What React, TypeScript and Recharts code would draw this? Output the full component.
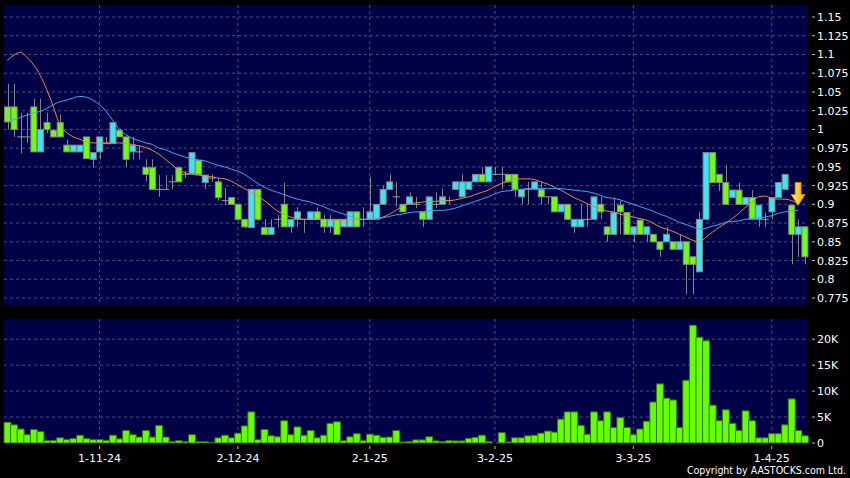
import React from "react";
import {
  ComposedChart,
  Bar,
  Line,
  XAxis,
  YAxis,
  CartesianGrid,
  ReferenceDot,
} from "recharts";

// daily OHLC (cyan = up, green = down)
const opens = [
  1.030, 1.030, 0.990, 0.990, 1.030, 0.970, 1.009, 0.999, 1.009, 0.979,
  0.970, 0.970, 0.990, 0.960, 0.970, 0.981, 0.981, 0.999, 0.990, 0.970,
  0.970, 0.949, 0.949, 0.920, 0.920, 0.930, 0.949, 0.940, 0.941, 0.959,
  0.929, 0.935, 0.930, 0.905, 0.909, 0.900, 0.880, 0.869, 0.920, 0.869,
  0.860, 0.880, 0.900, 0.870, 0.880, 0.880, 0.880, 0.890, 0.880, 0.870,
  0.880, 0.870, 0.870, 0.890, 0.880, 0.880, 0.880, 0.900, 0.920, 0.910,
  0.900, 0.900, 0.900, 0.890, 0.880, 0.900, 0.900, 0.905, 0.920, 0.910,
  0.920, 0.930, 0.940, 0.930, 0.940, 0.940, 0.940, 0.940, 0.910, 0.920,
  0.920, 0.920, 0.910, 0.910, 0.890, 0.900, 0.870, 0.870, 0.880, 0.880,
  0.900, 0.870, 0.860, 0.899, 0.889, 0.860, 0.879, 0.860, 0.860, 0.850,
  0.850, 0.850, 0.840, 0.850, 0.830, 0.810, 0.880, 0.969, 0.940, 0.929,
  0.909, 0.919, 0.900, 0.909, 0.880, 0.880, 0.890, 0.909, 0.920, 0.899,
  0.860, 0.870,
];
const highs = [
  1.061, 1.061, 1.022, 1.022, 1.041, 1.041, 1.022, 0.999, 1.020, 0.986,
  0.979, 0.979, 0.990, 0.969, 0.990, 0.990, 1.009, 1.001, 0.990, 0.990,
  0.979, 0.960, 0.960, 0.939, 0.939, 0.939, 0.949, 0.945, 0.969, 0.959,
  0.939, 0.940, 0.935, 0.922, 0.909, 0.900, 0.880, 0.920, 0.920, 0.880,
  0.880, 0.886, 0.929, 0.880, 0.896, 0.880, 0.890, 0.896, 0.886, 0.886,
  0.880, 0.880, 0.890, 0.890, 0.896, 0.937, 0.900, 0.925, 0.940, 0.930,
  0.900, 0.916, 0.910, 0.890, 0.910, 0.916, 0.921, 0.910, 0.930, 0.940,
  0.930, 0.940, 0.950, 0.950, 0.950, 0.950, 0.940, 0.940, 0.920, 0.930,
  0.930, 0.930, 0.910, 0.910, 0.900, 0.900, 0.880, 0.900, 0.900, 0.910,
  0.910, 0.870, 0.909, 0.905, 0.889, 0.870, 0.879, 0.870, 0.860, 0.850,
  0.870, 0.850, 0.860, 0.850, 0.830, 0.890, 0.969, 0.969, 0.940, 0.952,
  0.919, 0.929, 0.909, 0.919, 0.899, 0.889, 0.909, 0.929, 0.940, 0.899,
  0.880, 0.870,
];
const lows = [
  1.000, 0.990, 0.968, 0.982, 0.970, 0.970, 0.995, 0.990, 0.990, 0.970,
  0.970, 0.970, 0.961, 0.949, 0.960, 0.981, 0.981, 0.990, 0.950, 0.960,
  0.960, 0.931, 0.920, 0.910, 0.920, 0.920, 0.930, 0.935, 0.941, 0.940,
  0.920, 0.930, 0.905, 0.899, 0.900, 0.878, 0.868, 0.869, 0.878, 0.860,
  0.860, 0.869, 0.870, 0.862, 0.870, 0.862, 0.880, 0.880, 0.862, 0.862,
  0.860, 0.870, 0.870, 0.870, 0.870, 0.880, 0.880, 0.900, 0.920, 0.897,
  0.890, 0.900, 0.895, 0.870, 0.880, 0.895, 0.900, 0.900, 0.920, 0.910,
  0.920, 0.930, 0.930, 0.930, 0.940, 0.920, 0.930, 0.910, 0.900, 0.900,
  0.920, 0.900, 0.900, 0.890, 0.890, 0.880, 0.862, 0.870, 0.870, 0.880,
  0.880, 0.850, 0.860, 0.860, 0.860, 0.850, 0.860, 0.850, 0.850, 0.830,
  0.850, 0.840, 0.840, 0.780, 0.780, 0.810, 0.880, 0.929, 0.918, 0.900,
  0.909, 0.900, 0.900, 0.880, 0.870, 0.870, 0.880, 0.909, 0.920, 0.820,
  0.830, 0.820,
];
const closes = [
  1.010, 1.000, 0.990, 0.990, 0.970, 1.000, 1.000, 0.990, 0.990, 0.970,
  0.979, 0.979, 0.961, 0.969, 0.990, 0.981, 1.009, 0.990, 0.960, 0.979,
  0.970, 0.940, 0.920, 0.920, 0.920, 0.930, 0.930, 0.940, 0.969, 0.940,
  0.939, 0.935, 0.909, 0.905, 0.900, 0.880, 0.870, 0.920, 0.880, 0.860,
  0.869, 0.880, 0.870, 0.880, 0.890, 0.880, 0.890, 0.880, 0.870, 0.880,
  0.860, 0.880, 0.890, 0.870, 0.880, 0.890, 0.900, 0.920, 0.930, 0.910,
  0.890, 0.910, 0.900, 0.880, 0.910, 0.900, 0.910, 0.905, 0.930, 0.930,
  0.930, 0.940, 0.930, 0.950, 0.940, 0.940, 0.930, 0.920, 0.920, 0.920,
  0.930, 0.910, 0.910, 0.890, 0.900, 0.880, 0.880, 0.880, 0.880, 0.910,
  0.890, 0.860, 0.889, 0.890, 0.860, 0.870, 0.860, 0.870, 0.850, 0.840,
  0.860, 0.840, 0.850, 0.820, 0.820, 0.880, 0.969, 0.929, 0.929, 0.900,
  0.919, 0.900, 0.909, 0.880, 0.899, 0.880, 0.909, 0.929, 0.940, 0.860,
  0.870, 0.830,
];

// moving averages (orange short, blue long)
const maShort = [
  1.092, 1.099, 1.103, 1.096, 1.086, 1.072, 1.053, 1.030, 1.005, 0.996,
  0.990, 0.987, 0.983, 0.982, 0.982, 0.982, 0.982, 0.982, 0.981, 0.980,
  0.978, 0.976, 0.972, 0.967, 0.960, 0.953, 0.946, 0.942, 0.940, 0.939,
  0.938, 0.937, 0.935, 0.934, 0.931, 0.926, 0.921, 0.916, 0.911, 0.905,
  0.898, 0.891, 0.887, 0.883, 0.881, 0.880, 0.880, 0.880, 0.880, 0.879,
  0.879, 0.879, 0.879, 0.879, 0.880, 0.880, 0.881, 0.883, 0.887, 0.892,
  0.898, 0.901, 0.902, 0.903, 0.904, 0.904, 0.905, 0.905, 0.906, 0.908,
  0.910, 0.913, 0.916, 0.919, 0.924, 0.928, 0.931, 0.934, 0.934, 0.934,
  0.933, 0.930, 0.927, 0.923, 0.919, 0.914, 0.909, 0.905, 0.901, 0.897,
  0.894, 0.891, 0.890, 0.887, 0.885, 0.883, 0.881, 0.879, 0.875, 0.870,
  0.867, 0.864, 0.860, 0.856, 0.852, 0.850, 0.856, 0.863, 0.869, 0.875,
  0.881, 0.888, 0.896, 0.903, 0.910, 0.911, 0.908, 0.907, 0.907, 0.905,
  0.901, null,
];
const maLong = [
  1.010, 1.013, 1.016, 1.019, 1.022, 1.024, 1.028, 1.033, 1.037, 1.039,
  1.042, 1.044, 1.043, 1.039, 1.033, 1.024, 1.012, 1.000, 0.993, 0.988,
  0.985, 0.982, 0.980, 0.975, 0.973, 0.969, 0.966, 0.963, 0.961, 0.959,
  0.958, 0.955, 0.952, 0.950, 0.947, 0.944, 0.940, 0.934, 0.928, 0.923,
  0.919, 0.916, 0.913, 0.910, 0.907, 0.905, 0.903, 0.900, 0.897, 0.893,
  0.890, 0.887, 0.884, 0.881, 0.880, 0.880, 0.881, 0.882, 0.884, 0.886,
  0.887, 0.889, 0.890, 0.890, 0.891, 0.892, 0.892, 0.893, 0.895, 0.898,
  0.901, 0.904, 0.907, 0.910, 0.914, 0.917, 0.918, 0.919, 0.920, 0.921,
  0.921, 0.921, 0.921, 0.921, 0.921, 0.920, 0.919, 0.918, 0.917, 0.915,
  0.912, 0.909, 0.908, 0.906, 0.903, 0.900, 0.897, 0.894, 0.891, 0.887,
  0.884, 0.880, 0.876, 0.873, 0.870, 0.867, 0.868, 0.871, 0.873, 0.876,
  0.877, 0.878, 0.880, 0.881, 0.882, 0.883, 0.885, 0.888, 0.890, 0.891,
  0.892, null,
];

// volume in thousands of shares
const volumeK = [
  4.0, 3.5, 2.7, 1.6, 2.6, 2.2, 0.45, 0.5, 1.0, 0.65,
  0.85, 1.5, 0.85, 0.65, 0.65, 0.5, 1.5, 0.8, 2.4, 1.6,
  1.15, 2.4, 1.15, 3.4, 1.15, 0.3, 0.45, 0.25, 1.6, 0.25,
  0.25, 0.1, 1.0, 1.5, 1.0, 1.9, 3.3, 6.0, 0.65, 2.6,
  1.4, 1.2, 4.3, 1.6, 3.1, 1.5, 2.4, 1.0, 1.5, 3.8,
  4.1, 0.45, 1.2, 1.8, 0.45, 1.7, 1.5, 1.1, 1.15, 2.4,
  0.2, 0.3, 0.6, 0.6, 1.2, 0.4, 0.25, 0.45, 0.4, 0.4,
  0.9, 1.1, 1.5, 0.25, 0, 2.0, 0.2, 1.0, 1.0, 1.4,
  1.5, 1.9, 2.3, 2.1, 4.6, 6.0, 6.0, 3.4, 1.7, 6.0,
  4.3, 6.0, 3.0, 4.9, 3.0, 1.6, 2.7, 4.2, 7.9, 11.4,
  8.65, 8.3, 3.0, 12.1, 22.7, 20.4, 19.7, 7.3, 4.3, 6.4,
  3.8, 2.4, 6.2, 4.3, 1.0, 1.0, 1.8, 1.8, 3.5, 8.5,
  2.4, 1.4,
];

const dateTickIdx = [14, 35, 55, 74, 95, 116];
const dateTickLabels = ["1-11-24", "2-12-24", "2-1-25", "3-2-25", "3-3-25", "1-4-25"];

const priceTicks = [
  0.775, 0.8, 0.825, 0.85, 0.875, 0.9, 0.925, 0.95, 0.975, 1, 1.025, 1.05,
  1.075, 1.1, 1.125, 1.15,
];
const volumeTicks = [0, 5, 10, 15, 20];

// down arrow marker near the last bars
const arrowIdx = 120;
const arrowPrice = 0.9145;

const rows = opens.map((o, i) => ({
  idx: i,
  open: o,
  high: highs[i],
  low: lows[i],
  close: closes[i],
  maShort: maShort[i],
  maLong: maLong[i],
  vol: volumeK[i],
}));

const UP = "#3fe3f2";
const DOWN = "#6cff12";
const EDGE = "#858585";
const GRID = "#4b4b86";
const PANEL = "#000046";
const FONT = "DejaVu Sans, Verdana, sans-serif";

const Candle = (props: any) => {
  const { x, y, width, height, payload } = props;
  if (!payload || x == null) return null;
  const { open, close, high, low } = payload;
  const top = Math.min(y, y + height);
  const k = Math.abs(height) / (high - low);
  const py = (p: number) => top + (high - p) * k;
  const cx = Math.round(x + width / 2) + 0.5;
  const wick = <line x1={cx} x2={cx} y1={py(high)} y2={py(low)} stroke={EDGE} strokeWidth={1} />;
  if (open === close) {
    return (
      <g>
        {wick}
        <line x1={x} x2={x + width} y1={py(open)} y2={py(open)} stroke="#9a9a9a" strokeWidth={1} />
      </g>
    );
  }
  const bTop = py(Math.max(open, close));
  const bBot = py(Math.min(open, close));
  return (
    <g>
      {wick}
      <rect
        x={x + 0.5}
        y={bTop}
        width={Math.max(1, width - 1)}
        height={Math.max(1, bBot - bTop)}
        fill={close > open ? UP : DOWN}
        stroke={EDGE}
        strokeWidth={1}
      />
    </g>
  );
};

const RightTick = (props: any) => {
  const { x, y, payload, fmt } = props;
  return (
    <g>
      <line x1={x + 4} x2={x + 7} y1={y} y2={y} stroke="#bdbdbd" strokeWidth={1} />
      <text x={x + 9} y={y} dy="0.36em" fill="#ffffff" fontSize={11} fontFamily={FONT}>
        {fmt(payload.value)}
      </text>
    </g>
  );
};

const DateTick = (props: any) => {
  const { x, y, payload } = props;
  const pos = dateTickIdx.indexOf(payload.value);
  return (
    <g>
      <line x1={x} x2={x} y1={y + 3} y2={y + 6} stroke="#bdbdbd" strokeWidth={1} />
      <text x={x} y={y + 19} textAnchor="middle" fill="#ffffff" fontSize={11} fontFamily={FONT}>
        {pos >= 0 ? dateTickLabels[pos] : ""}
      </text>
    </g>
  );
};

// the price panel shares the date grid but shows no labels
const NoTick = () => <g />;

const DownArrow = (props: any) => {
  const { cx, cy } = props;
  if (cx == null) return null;
  const pts = [
    [cx - 3, cy - 11],
    [cx + 3, cy - 11],
    [cx + 3, cy + 1],
    [cx + 7, cy + 1],
    [cx, cy + 12],
    [cx - 7, cy + 1],
    [cx - 3, cy + 1],
  ]
    .map((p) => p.join(","))
    .join(" ");
  return <polygon points={pts} fill="url(#arrowFill)" stroke="#c88a00" strokeWidth={0.8} />;
};

const fmtPrice = (v: number) => String(Number(v.toFixed(3)));
const fmtVol = (v: number) => (v === 0 ? "0" : `${v}K`);

export default function App() {
  return (
    <div
      style={{
        position: "absolute",
        left: 0,
        top: 0,
        width: 850,
        height: 478,
        background: "#000",
        overflow: "hidden",
      }}
    >
      <div style={{ position: "absolute", left: 0, top: 0 }}>
        <ComposedChart
          width={850}
          height={310}
          data={rows}
          margin={{ top: 5, right: 0, bottom: 5, left: 4 }}
          barCategoryGap={0}
        >
          <defs>
            <linearGradient id="arrowFill" x1="0" y1="0" x2="1" y2="0">
              <stop offset="0%" stopColor="#fff27a" />
              <stop offset="100%" stopColor="#f0a800" />
            </linearGradient>
          </defs>
          <CartesianGrid
            stroke={GRID}
            strokeDasharray="3 3"
            fill={PANEL}
            fillOpacity={1}
            syncWithTicks
          />
          <XAxis
            dataKey="idx"
            ticks={dateTickIdx}
            interval={0}
            height={0}
            axisLine={false}
            tickLine={false}
            tick={<NoTick />}
          />
          <YAxis
            orientation="right"
            width={42}
            domain={[0.7657, 1.166]}
            ticks={priceTicks}
            interval={0}
            allowDataOverflow
            axisLine={false}
            tickLine={false}
            tickSize={0}
            tickMargin={0}
            tick={<RightTick fmt={fmtPrice} />}
          />
          <Bar
            dataKey={(d: any) => [d.low, d.high]}
            shape={<Candle />}
            isAnimationActive={false}
          />
          <Line
            dataKey="maShort"
            type="monotone"
            stroke="#e9884e"
            strokeWidth={1}
            dot={false}
            activeDot={false}
            isAnimationActive={false}
          />
          <Line
            dataKey="maLong"
            type="monotone"
            stroke="#45a6f0"
            strokeWidth={1}
            dot={false}
            activeDot={false}
            isAnimationActive={false}
          />
          <ReferenceDot
            x={arrowIdx}
            y={arrowPrice}
            r={0}
            ifOverflow="visible"
            shape={<DownArrow />}
          />
        </ComposedChart>
      </div>

      <div style={{ position: "absolute", left: 0, top: 310 }}>
        <ComposedChart
          width={850}
          height={168}
          data={rows}
          margin={{ top: 9, right: 0, bottom: 0, left: 4 }}
          barCategoryGap={0}
        >
          <CartesianGrid
            stroke={GRID}
            strokeDasharray="3 3"
            fill={PANEL}
            fillOpacity={1}
            syncWithTicks
          />
          <XAxis
            dataKey="idx"
            ticks={dateTickIdx}
            interval={0}
            height={35}
            axisLine={false}
            tickLine={false}
            tickSize={0}
            tickMargin={0}
            tick={<DateTick />}
          />
          <YAxis
            orientation="right"
            width={42}
            domain={[0, 23.9]}
            ticks={volumeTicks}
            interval={0}
            allowDataOverflow
            axisLine={false}
            tickLine={false}
            tickSize={0}
            tickMargin={0}
            tick={<RightTick fmt={fmtVol} />}
          />
          <Bar dataKey="vol" fill="#66ff00" stroke="#2f7400" strokeWidth={1} isAnimationActive={false} />
        </ComposedChart>
      </div>

      <div
        style={{
          position: "absolute",
          right: 4,
          top: 464,
          color: "#fff",
          fontSize: 10.5,
          fontFamily: "DejaVu Sans Condensed, DejaVu Sans, sans-serif",
          whiteSpace: "nowrap",
        }}
      >
        Copyright by AASTOCKS.com Ltd.
      </div>
    </div>
  );
}
